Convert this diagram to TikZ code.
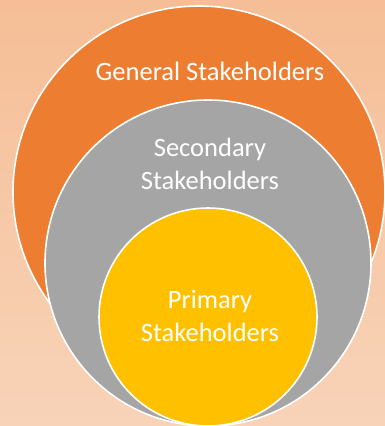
\documentclass[tikz,border=0pt]{standalone}
\usepackage{fontspec}
\setmainfont{Carlito}
\definecolor{bgtop}{HTML}{F5BE96}
\definecolor{bgbot}{HTML}{F8D3B8}
\definecolor{orng}{HTML}{ED7D31}
\definecolor{gry}{HTML}{A5A5A5}
\definecolor{yel}{HTML}{FFC000}
\tikzset{
  ring/.style={draw=white, line width=1.6pt, circle, inner sep=0pt, minimum size=#1},
  lbl/.style={text=white, font=\fontsize{26.5}{32.5}\selectfont, align=center, inner sep=0pt}
}
\begin{document}
\begin{tikzpicture}[x=1pt, y=-1pt]
\useasboundingbox (0,0) rectangle (385,426);
\shade[top color=bgtop, bottom color=bgbot] (0,0) rectangle (385,426);
\node[ring=372pt, fill=orng] (gen) at (199,192) {};
\node[ring=326pt, fill=gry] (sec) at (208,263) {};
\node[ring=218pt, fill=yel] (pri) at (208,317) {};
\node[lbl] (tgen) at (210,71) {General Stakeholders};
\node[lbl] (tsec) at (210,164) {Secondary\\Stakeholders};
\node[lbl] (tpri) at (210,316) {Primary\\Stakeholders};
\end{tikzpicture}
\end{document}
